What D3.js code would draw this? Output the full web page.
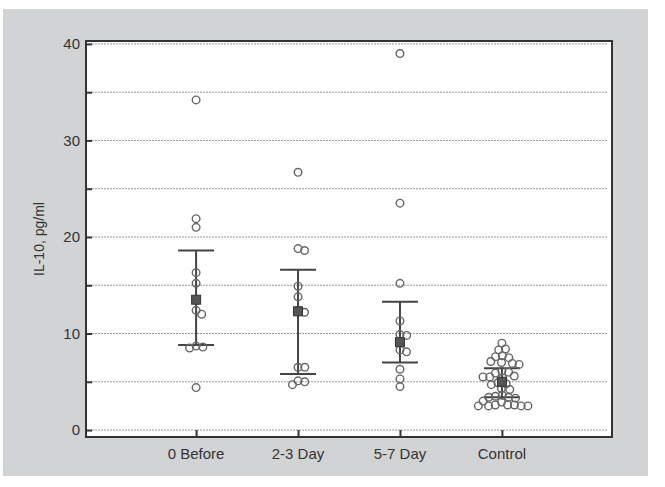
<!DOCTYPE html>
<html><head><meta charset="utf-8">
<script src="https://cdn.jsdelivr.net/npm/d3@7"></script>
<style>html,body{margin:0;padding:0;background:#fff;}svg{display:block;font-family:"Liberation Sans",Arial,sans-serif;}</style>
</head><body>
<script>
const categories = ["0 Before", "2-3 Day", "5-7 Day", "Control"];
const before0 = [34.2, 21.9, 21.0, 16.3, 15.2, 12.4, 12.0, 8.6, 8.5, 8.7, 4.4];
const day23 = [26.7, 18.6, 18.8, 14.9, 13.8, 12.2, 12.4, 6.5, 6.5, 5.0, 4.7, 5.1];
const day57 = [39.0, 23.5, 15.2, 11.3, 9.8, 9.9, 8.1, 8.3, 6.3, 5.3, 4.5];
const control = [9.0, 8.4, 8.3, 7.7, 7.6, 7.5, 7.0, 6.9, 6.8, 7.1, 6.1, 6.0, 5.9,
  5.6, 5.5, 5.4, 5.5, 4.8, 4.7, 4.9, 4.3, 4.2, 3.5, 3.4, 3.6, 3.3, 3.4,
  2.9, 3.0, 2.5, 2.6, 2.5, 2.6, 2.5, 2.6, 2.5];
const groupValues = [before0, day23, day57, control];
const means = [13.5, 12.3, 9.1, 5.0];
const upper = [18.6, 16.6, 13.3, 6.4];
const lower = [8.8, 5.8, 7.0, 3.4];
const yTicks = [0, 10, 20, 30, 40];
const yMinor = [0, 5, 10, 15, 20, 25, 30, 35, 40];
const yTitle = "IL-10, pg/ml";

const W = 665, H = 487;
const L = 86, R = 612, T = 41, B = 437;
const svg = d3.select("body").append("svg").attr("width", W).attr("height", H);
svg.append("rect").attr("x", 3).attr("y", 9).attr("width", 645).attr("height", 467).attr("fill", "#d2d3d5");
svg.append("rect").attr("x", L).attr("y", T).attr("width", R - L).attr("height", B - T).attr("fill", "#fff");

const y = d3.scaleLinear().domain([-0.72, 40.3]).range([B, T]);
const x = d3.scalePoint().domain(categories).range([L, R]).padding(1.08);

// gridlines
svg.append("g").selectAll("line").data(yMinor).join("line")
  .attr("x1", L + 6).attr("x2", R - 4).attr("y1", d => y(d)).attr("y2", d => y(d))
  .attr("stroke", "#9a9a9a").attr("stroke-width", 1).attr("stroke-dasharray", "2,1");

// y axis (ticks inside)
const yAx = svg.append("g").attr("transform", `translate(${L},0)`)
  .call(d3.axisRight(y).tickValues(yMinor).tickSize(6).tickFormat(""));
yAx.select(".domain").remove();
yAx.selectAll("line").attr("stroke", "#333").attr("stroke-width", 2);
svg.append("g").selectAll("text").data(yTicks).join("text")
  .attr("x", L - 6).attr("y", d => y(d)).attr("dy", "0.35em").attr("text-anchor", "end")
  .attr("font-size", 15).attr("fill", "#333").text(d => d);

// x axis (ticks inside)
const xAx = svg.append("g").attr("transform", `translate(0,${B})`)
  .call(d3.axisTop(x).tickSize(7).tickFormat(""));
xAx.select(".domain").remove();
xAx.selectAll("line").attr("stroke", "#333").attr("stroke-width", 2);
svg.append("g").selectAll("text").data(categories).join("text")
  .attr("x", d => x(d)).attr("y", B + 22).attr("text-anchor", "middle")
  .attr("font-size", 15).attr("fill", "#333").text(d => d);

// border
svg.append("rect").attr("x", L).attr("y", T).attr("width", R - L).attr("height", B - T)
  .attr("fill", "none").attr("stroke", "#333").attr("stroke-width", 2);

// y title
svg.append("text").attr("transform", `translate(44,${(T + B) / 2}) rotate(-90)`)
  .attr("text-anchor", "middle").attr("font-size", 14).attr("fill", "#333").text(yTitle);

// beeswarm layout
function swarm(vals, cx, dmin) {
  const pts = vals.map(v => ({ v, y: y(v) })).sort((a, b) => a.y - b.y);
  const placed = [];
  for (const p of pts) {
    const cands = [0];
    for (const q of placed) {
      const dy = Math.abs(q.y - p.y);
      if (dy < dmin) {
        const dx = Math.sqrt(dmin * dmin - dy * dy);
        cands.push(q.x - cx + dx, q.x - cx - dx);
      }
    }
    cands.sort((a, b) => Math.abs(a) - Math.abs(b));
    let bx = cx;
    for (const c of cands) {
      const xx = cx + c;
      if (placed.every(q => (q.x - xx) ** 2 + (q.y - p.y) ** 2 >= dmin * dmin - 0.01)) { bx = xx; break; }
    }
    p.x = bx; placed.push(p);
  }
  return placed;
}

categories.forEach((c, i) => {
  const cx = x(c);
  const g = svg.append("g");
  g.append("line").attr("x1", cx).attr("x2", cx).attr("y1", y(upper[i])).attr("y2", y(lower[i]))
    .attr("stroke", "#444").attr("stroke-width", 2);
  [upper[i], lower[i]].forEach(v => {
    g.append("line").attr("x1", cx - 18).attr("x2", cx + 18).attr("y1", y(v)).attr("y2", y(v))
      .attr("stroke", "#444").attr("stroke-width", 2);
  });
  const pts = swarm(groupValues[i], cx, 6.8);
  g.selectAll("circle").data(pts).join("circle")
    .attr("cx", d => d.x).attr("cy", d => d.y).attr("r", 3.8)
    .attr("fill", "none").attr("stroke", "#666").attr("stroke-width", 1.4);
  g.append("rect").attr("x", cx - 4.5).attr("y", y(means[i]) - 4.5).attr("width", 9).attr("height", 9)
    .attr("fill", "#555").attr("stroke", "#333").attr("stroke-width", 1);
});
</script>
</body></html>
